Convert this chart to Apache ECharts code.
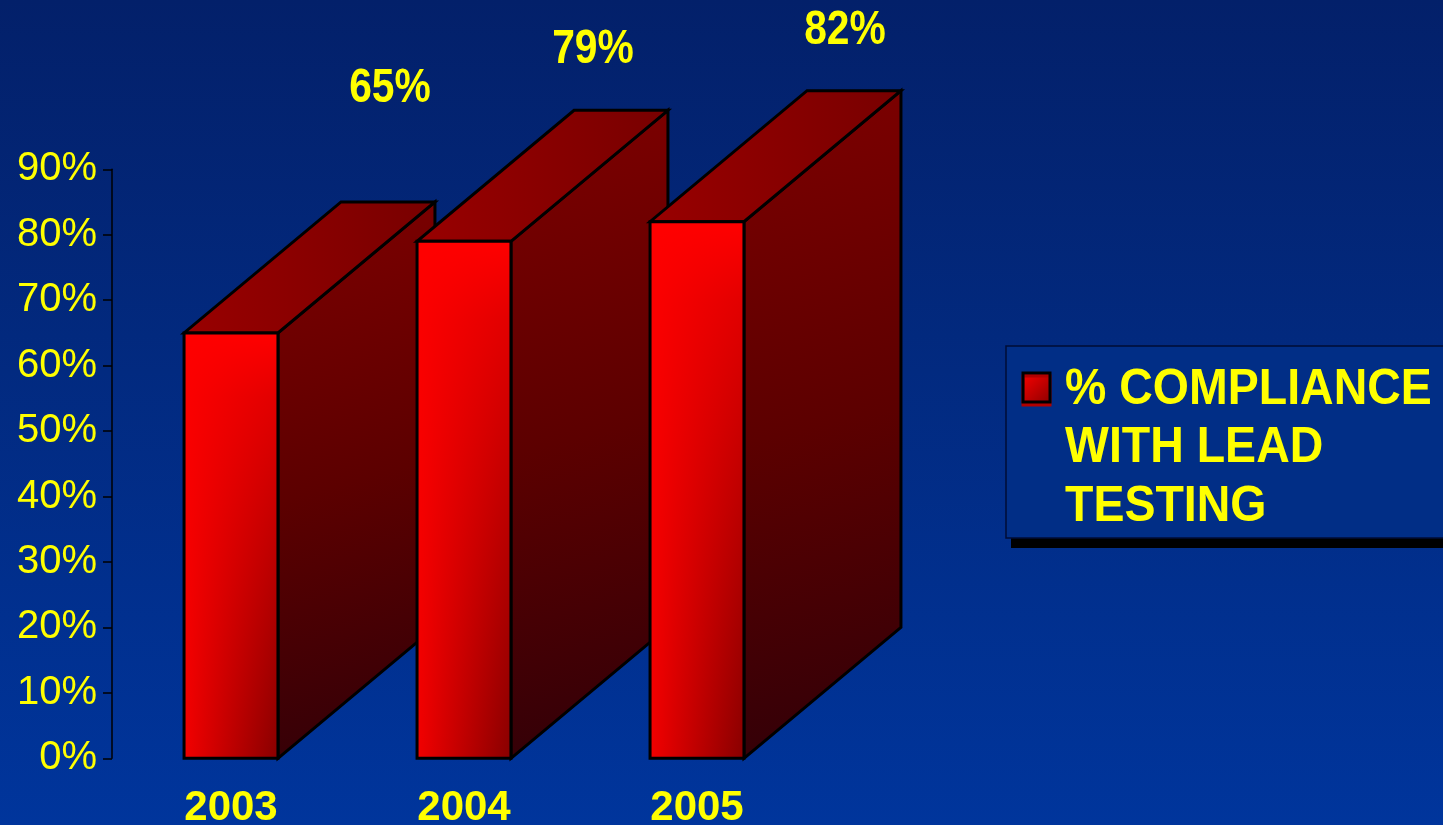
<!DOCTYPE html>
<html>
<head>
<meta charset="utf-8">
<script src="https://cdn.jsdelivr.net/npm/echarts@6/dist/echarts.min.js"></script>
<style>
  html, body { margin: 0; padding: 0; }
  body {
    width: 1443px; height: 825px; overflow: hidden;
    background: linear-gradient(180deg, #03206a 0%, #022a80 45%, #00359c 100%);
  }
  #chart { width: 1443px; height: 825px; }
</style>
</head>
<body>
<div id="chart"></div>
<script>
// ---- data ----
const years = ['2003', '2004', '2005'];
const compliance = [65, 79, 82];           // percent
const seriesName = '% COMPLIANCE\nWITH LEAD\nTESTING';
const yMin = 0, yMax = 90, yStep = 10;

// ---- layout constants ----
const DEPTH_X = 157;      // oblique depth of each box, px
const DEPTH_Y = -131;
const BAR_RATIO = 0.403;  // front face width as share of the category band
// value labels sit above the back edge of each box, nudged by hand
const labelNudge = [[2, -113], [-28, -61], [-9, -60]];

const FONT = '"Liberation Sans", Arial, Helvetica, sans-serif';
const YELLOW = '#ffff00';
const G = echarts.graphic;

function renderBox(params, api) {
  const idx = params.dataIndex;
  const cat = api.value(0);
  const val = api.value(1);
  const base = api.coord([cat, 0]);
  const top = api.coord([cat, val]);
  const bw = api.size([1, 0])[0] * BAR_RATIO;
  const xl = base[0] - bw / 2, xr = base[0] + bw / 2;
  const yb = base[1], yt = top[1];
  const dx = DEPTH_X, dy = DEPTH_Y;
  const edge = { stroke: '#000', lineWidth: 3, lineJoin: 'miter' };

  const side = {
    type: 'polygon',
    shape: { points: [[xr, yb], [xr + dx, yb + dy], [xr + dx, yt + dy], [xr, yt]] },
    style: Object.assign({
      fill: new G.LinearGradient(0, 0, 1, 1, [
        { offset: 0, color: '#7e0000' },
        { offset: 0.5, color: '#5c0000' },
        { offset: 1, color: '#300008' }
      ])
    }, edge)
  };
  const lid = {
    type: 'polygon',
    shape: { points: [[xl, yt], [xr, yt], [xr + dx, yt + dy], [xl + dx, yt + dy]] },
    style: Object.assign({
      fill: new G.LinearGradient(0, 0, 1, 0, [
        { offset: 0, color: '#990000' },
        { offset: 1, color: '#780000' }
      ])
    }, edge)
  };
  // front face: darkens toward the right, more so lower down
  const frontBase = {
    type: 'polygon',
    shape: { points: [[xl, yb], [xr, yb], [xr, yt], [xl, yt]] },
    style: {
      fill: new G.LinearGradient(0, 0, 1, 0, [
        { offset: 0, color: '#f20000' },
        { offset: 1, color: '#880000' }
      ])
    }
  };
  const frontGlow = {
    type: 'polygon',
    shape: { points: [[xl, yb], [xr, yb], [xr, yt], [xl, yt]] },
    style: {
      fill: new G.LinearGradient(0, 0, 0, 1, [
        { offset: 0, color: 'rgba(255,0,0,1)' },
        { offset: 0.15, color: 'rgba(255,0,0,0.75)' },
        { offset: 1, color: 'rgba(255,0,0,0)' }
      ])
    }
  };
  const frontEdge = {
    type: 'polygon',
    shape: { points: [[xl, yb], [xr, yb], [xr, yt], [xl, yt]] },
    style: Object.assign({ fill: 'none' }, edge)
  };
  const nudge = labelNudge[idx];
  const label = {
    type: 'text',
    x: base[0] + dx + nudge[0],
    y: yt + dy + nudge[1],
    scaleX: 0.85,
    style: {
      x: 0, y: 0,
      text: val + '%',
      fill: YELLOW,
      font: 'bold 48px ' + FONT,
      align: 'center',
      verticalAlign: 'middle'
    }
  };
  return { type: 'group', children: [side, lid, frontBase, frontGlow, frontEdge, label] };
}

const chart = echarts.init(document.getElementById('chart'), null, { renderer: 'canvas' });

const legendLines = seriesName.split('\n');
const legendGraphics = [
  { type: 'rect', z: 10, shape: { x: 1011, y: 351, width: 470, height: 197 }, style: { fill: '#000' } },
  { type: 'rect', z: 11, shape: { x: 1006, y: 346, width: 470, height: 192 },
    style: { fill: '#012e86', stroke: '#000c36', lineWidth: 1.5 } },
  { type: 'rect', z: 12, shape: { x: 1023, y: 373, width: 27, height: 29 },
    style: {
      fill: new G.LinearGradient(0, 0, 1, 1, [
        { offset: 0, color: '#ff0000' },
        { offset: 1, color: '#8a0000' }
      ]),
      stroke: '#000', lineWidth: 3,
      shadowColor: '#b00000', shadowOffsetY: 3, shadowOffsetX: 0, shadowBlur: 0
    } }
].concat(legendLines.map((t, i) => ({
  type: 'text', z: 12,
  x: 1065, y: 390 + i * 58.5,
  scaleX: 0.93,
  style: { x: 0, y: 0, text: t, fill: YELLOW, font: 'bold 50px ' + FONT, align: 'left', verticalAlign: 'middle' }
})));

chart.setOption({
  backgroundColor: 'transparent',
  animation: false,
  grid: { left: 114.5, right: 629.5, top: 169.3, bottom: 66.7, outerBoundsMode: 'none', containLabel: false },
  xAxis: {
    type: 'category',
    data: years,
    axisLine: { show: false },
    axisTick: { show: false },
    splitLine: { show: false },
    axisLabel: {
      color: YELLOW,
      fontFamily: FONT,
      fontWeight: 'bold',
      fontSize: 42,
      margin: 29
    }
  },
  yAxis: {
    type: 'value',
    min: yMin, max: yMax, interval: yStep,
    offset: 2.5,
    axisLine: { show: true, lineStyle: { color: '#000', width: 1.5 } },
    axisTick: { show: true, length: 9, lineStyle: { color: '#000', width: 1.5 } },
    splitLine: { show: false },
    axisLabel: {
      color: YELLOW,
      fontFamily: FONT,
      fontSize: 40,
      margin: 15,
      formatter: '{value}%'
    }
  },
  series: [{
    type: 'custom',
    name: seriesName,
    clip: false,
    renderItem: renderBox,
    encode: { x: 0, y: 1 },
    data: years.map((y, i) => [i, compliance[i]])
  }],
  graphic: legendGraphics
});
</script>
</body>
</html>
